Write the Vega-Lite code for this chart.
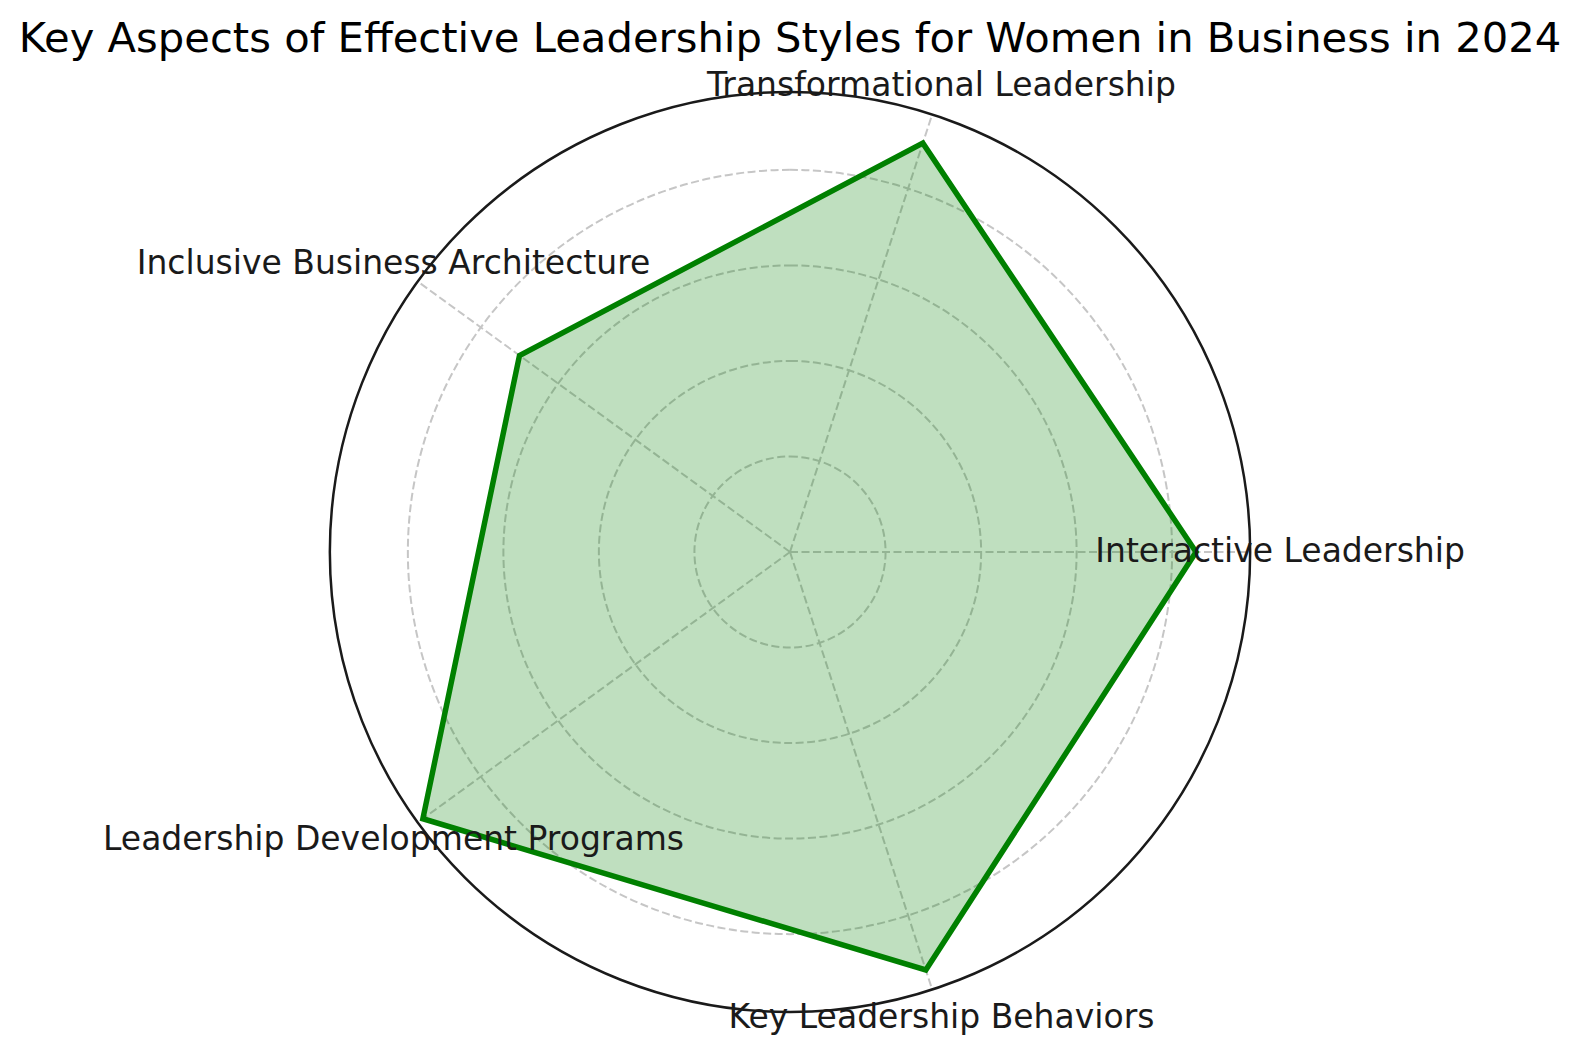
{
  "$schema": "https://vega.github.io/schema/vega-lite/v6.json",
  "width": 920,
  "height": 920,
  "autosize": {"type": "none"},
  "padding": {"left": 330, "top": 92, "right": 331, "bottom": 44},
  "background": "white",
  "view": {"stroke": null},
  "title": {
    "text": "Key Aspects of Effective Leadership Styles for Women in Business in 2024",
    "font": "DejaVu Sans",
    "fontSize": 41.7,
    "fontWeight": "normal",
    "color": "black",
    "anchor": "middle",
    "baseline": "alphabetic",
    "offset": 31,
    "dy": 55
  },
  "datasets": {
    "aspects": [
      {"aspect": "Interactive Leadership", "score": 85},
      {"aspect": "Transformational Leadership", "score": 90},
      {"aspect": "Inclusive Business Architecture", "score": 70},
      {"aspect": "Leadership Development Programs", "score": 95},
      {"aspect": "Key Leadership Behaviors", "score": 92}
    ],
    "rings": [{"r": 20}, {"r": 40}, {"r": 60}, {"r": 80}],
    "limit": [{"r": 96.3}]
  },
  "layer": [
    {
      "data": {"name": "rings"},
      "mark": {
        "type": "arc",
        "theta": 0,
        "theta2": 6.2832,
        "fill": "transparent",
        "stroke": "#c6c6c6",
        "strokeWidth": 2,
        "strokeDash": [8, 3.5]
      },
      "encoding": {
        "radius": {
          "field": "r",
          "type": "quantitative",
          "stack": null,
          "scale": {"type": "linear", "domain": [0, 96.3], "range": [0, 460], "zero": true}
        }
      }
    },
    {
      "data": {"name": "aspects"},
      "transform": [
        {"window": [{"op": "row_number", "as": "i"}]},
        {"calculate": "(datum.i - 1) * 2 * PI / 5", "as": "angle"},
        {"calculate": "96.3 * cos(datum.angle)", "as": "sx"},
        {"calculate": "96.3 * sin(datum.angle)", "as": "sy"},
        {"calculate": "0", "as": "origin"}
      ],
      "mark": {"type": "rule", "stroke": "#c6c6c6", "strokeWidth": 2, "strokeDash": [8, 3.5]},
      "encoding": {
        "x": {"field": "origin", "type": "quantitative", "scale": {"domain": [-96.3, 96.3], "nice": false, "zero": false}, "axis": null},
        "y": {"field": "origin", "type": "quantitative", "scale": {"domain": [-96.3, 96.3], "nice": false, "zero": false}, "axis": null},
        "x2": {"field": "sx"},
        "y2": {"field": "sy"}
      }
    },
    {
      "data": {"name": "aspects"},
      "transform": [
        {"window": [{"op": "row_number", "as": "i"}]},
        {"calculate": "(datum.i - 1) * 2 * PI / 5", "as": "angle"},
        {"calculate": "datum.score * cos(datum.angle)", "as": "px"},
        {"calculate": "datum.score * sin(datum.angle)", "as": "py"}
      ],
      "mark": {
        "type": "line",
        "interpolate": "linear-closed",
        "fill": "#008000",
        "fillOpacity": 0.25,
        "stroke": "#008000",
        "strokeWidth": 5.5,
        "strokeJoin": "miter"
      },
      "encoding": {
        "x": {"field": "px", "type": "quantitative"},
        "y": {"field": "py", "type": "quantitative"},
        "order": {"field": "i", "type": "quantitative"}
      }
    },
    {
      "data": {"name": "limit"},
      "mark": {
        "type": "arc",
        "theta": 0,
        "theta2": 6.2832,
        "fill": "transparent",
        "stroke": "#1a1a1a",
        "strokeWidth": 2.5
      },
      "encoding": {
        "radius": {"field": "r", "type": "quantitative", "stack": null}
      }
    },
    {
      "data": {"name": "aspects"},
      "transform": [
        {"window": [{"op": "row_number", "as": "i"}]},
        {"calculate": "(datum.i - 1) * 2 * PI / 5", "as": "angle"},
        {"calculate": "102.6 * cos(datum.angle)", "as": "lx"},
        {"calculate": "102.6 * sin(datum.angle)", "as": "ly"}
      ],
      "mark": {
        "type": "text",
        "font": "DejaVu Sans",
        "fontSize": 33,
        "color": "#1a1a1a",
        "align": "center",
        "baseline": "middle"
      },
      "encoding": {
        "x": {"field": "lx", "type": "quantitative"},
        "y": {"field": "ly", "type": "quantitative"},
        "text": {"field": "aspect", "type": "nominal"}
      }
    }
  ]
}
